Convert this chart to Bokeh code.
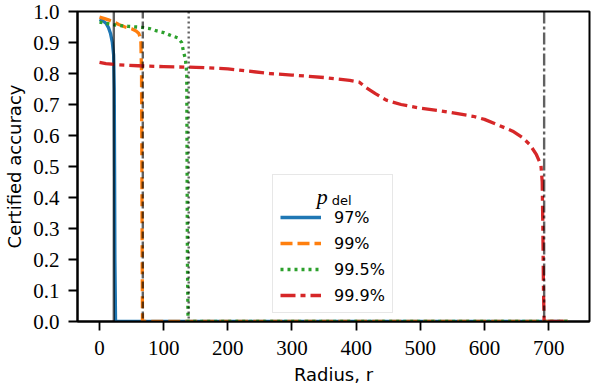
from bokeh.plotting import figure
from bokeh.models import Span, Label, Legend, LegendItem, FixedTicker, Range1d, PrintfTickFormatter
from bokeh.embed import file_html
from bokeh.resources import INLINE

# ---- data ----
series_labels = ["97%", "99%", "99.5%", "99.9%"]
colors = ["#1f77b4", "#ff7f0e", "#2ca02c", "#d62728"]
dashes = ["solid", "12 5", "3 4", "15 5 5 5"]
gray_dashes = ["solid", "7 3", "2 3", "12 3 3 3"]

r_97 = [0, 5, 10, 14, 17, 20, 22, 23, 23.5, 24, 25, 730]
acc_97 = [0.974, 0.970, 0.962, 0.948, 0.930, 0.900, 0.860, 0.750, 0.500, 0.200, 0.0, 0.0]

r_99 = [0, 8, 15, 22, 30, 40, 50, 57, 61, 63, 64.5, 65.5, 66, 66.5, 67, 730]
acc_99 = [0.982, 0.977, 0.972, 0.967, 0.958, 0.950, 0.944, 0.937, 0.930, 0.920, 0.900, 0.800, 0.500, 0.200, 0.0, 0.0]

r_995 = [0, 10, 26, 45, 65, 78, 88, 100, 112, 122, 128, 131, 134, 136, 136.5, 137, 138, 730]
acc_995 = [0.966, 0.962, 0.956, 0.952, 0.949, 0.945, 0.938, 0.932, 0.922, 0.915, 0.900, 0.870, 0.845, 0.800, 0.500, 0.200, 0.0, 0.0]

r_999 = [0, 10, 30, 60, 100, 150, 200, 265, 300, 350, 390, 405, 415, 430, 447, 470, 500, 530,
         556, 582, 600, 620, 644, 660, 671, 681, 688, 690, 691, 692, 693, 730]
acc_999 = [0.836, 0.832, 0.828, 0.825, 0.822, 0.820, 0.815, 0.800, 0.795, 0.787, 0.778, 0.772,
           0.755, 0.735, 0.714, 0.700, 0.688, 0.680, 0.671, 0.662, 0.652, 0.635, 0.614, 0.592,
           0.570, 0.538, 0.505, 0.450, 0.300, 0.100, 0.0, 0.0]

cert_radius = [22.3, 67.5, 139, 693]
x_ticks = [0, 100, 200, 300, 400, 500, 600, 700]
y_ticks = [0.0, 0.1, 0.2, 0.3, 0.4, 0.5, 0.6, 0.7, 0.8, 0.9, 1.0]

xs = [r_97, r_99, r_995, r_999]
ys = [acc_97, acc_99, acc_995, acc_999]

SANS = "DejaVu Sans"
SERIF = "Liberation Serif"

p = figure(width=592, height=388, title=None,
           x_range=Range1d(-34.3, 763.7), y_range=Range1d(0, 1),
           output_backend="svg", toolbar_location=None,
           min_border_left=77, min_border_right=3, min_border_top=11, min_border_bottom=67)

p.xgrid.visible = False
p.ygrid.visible = False
p.outline_line_color = "black"
p.outline_line_width = 2
p.outline_line_alpha = 1

for ax in (p.xaxis[0], p.yaxis[0]):
    ax.minor_tick_line_color = None
    ax.major_tick_in = 0
    ax.major_tick_out = 9
    ax.major_tick_line_width = 1.8
    ax.axis_line_width = 2
    ax.major_label_text_font = SERIF
    ax.major_label_text_font_size = "21px"
    ax.major_label_text_color = "black"
    ax.axis_label_text_font = SANS
    ax.axis_label_text_font_size = "18px"
    ax.axis_label_text_font_style = "normal"
    ax.axis_label_text_color = "black"

p.xaxis.ticker = FixedTicker(ticks=x_ticks)
p.yaxis.ticker = FixedTicker(ticks=y_ticks)
p.yaxis.formatter = PrintfTickFormatter(format="%.1f")
p.xaxis.major_label_standoff = 10
p.yaxis.major_label_standoff = 9
p.xaxis.axis_label = "Radius, r"
p.yaxis.axis_label = "Certified accuracy"
p.xaxis.axis_label_standoff = 6
p.yaxis.axis_label_standoff = 5

items = []
for x, y, c, d, lab in zip(xs, ys, colors, dashes, series_labels):
    r = p.line(x, y, line_color=c, line_width=3.3, line_dash=d, line_join="round")
    items.append(LegendItem(label=lab, renderers=[r]))

for cr, gd in zip(cert_radius, gray_dashes):
    p.add_layout(Span(location=cr, dimension="height", line_color="black", line_alpha=0.62,
                      line_width=2.4, line_dash=gd))

legend = Legend(items=items, location=(195, 8), margin=0)
legend.title = " "
legend.title_text_font_size = "19px"
legend.title_standoff = 3
legend.label_text_font = SANS
legend.label_text_font_size = "16px"
legend.label_text_color = "black"
legend.glyph_width = 41
legend.glyph_height = 20
legend.label_height = 20
legend.label_standoff = 13
legend.spacing = 6
legend.padding = 7
legend.border_line_color = "#d0d0d0"
legend.border_line_width = 1.8
legend.background_fill_alpha = 0
p.add_layout(legend, "center")

p.add_layout(Label(x=338.5, y=0.403, text="p", text_font=SERIF, text_font_style="italic",
                   text_font_size="22px", text_color="black", text_baseline="alphabetic",
                   level="overlay"))
p.add_layout(Label(x=362, y=0.391, text="del", text_font=SANS, text_baseline="alphabetic",
                   text_font_size="13px", text_color="black", level="overlay"))

open("out.html", "w").write(file_html(p, INLINE))
